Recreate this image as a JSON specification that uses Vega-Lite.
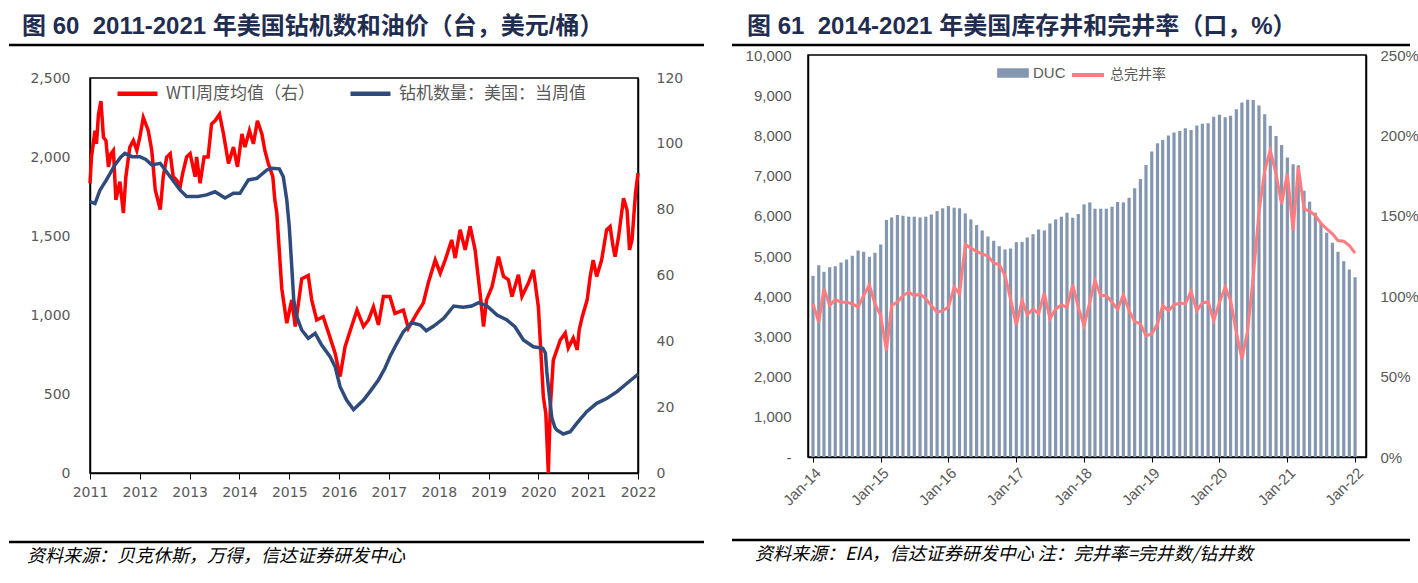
{
  "$schema": "https://vega.github.io/schema/vega-lite/v6.json",
  "padding": {"left": 7, "top": 15, "right": 8, "bottom": 0},
  "autosize": {"type": "pad"},
  "spacing": 24,
  "resolve": {"scale": {"color": "independent", "fill": "independent", "stroke": "independent"}},
  "datasets": {
    "wti": [
      {"t":2011.0,"v":88},{"t":2011.03,"v":96},{"t":2011.1,"v":104},{"t":2011.13,"v":100},{"t":2011.17,"v":109},{"t":2011.22,"v":113},{"t":2011.27,"v":102},{"t":2011.32,"v":101},{"t":2011.37,"v":93},{"t":2011.42,"v":97},{"t":2011.47,"v":98},{"t":2011.52,"v":83},{"t":2011.6,"v":88.5},{"t":2011.67,"v":79},{"t":2011.72,"v":90},{"t":2011.8,"v":99},{"t":2011.87,"v":101},{"t":2011.94,"v":98},
      {"t":2012.0,"v":102},{"t":2012.07,"v":108},{"t":2012.17,"v":104},{"t":2012.24,"v":98},{"t":2012.31,"v":86},{"t":2012.41,"v":80},{"t":2012.47,"v":90},{"t":2012.54,"v":96},{"t":2012.61,"v":97},{"t":2012.67,"v":90},{"t":2012.74,"v":89},{"t":2012.81,"v":87},{"t":2012.86,"v":91},{"t":2012.94,"v":96},
      {"t":2013.01,"v":97},{"t":2013.11,"v":90},{"t":2013.14,"v":96},{"t":2013.21,"v":88},{"t":2013.29,"v":96},{"t":2013.37,"v":96},{"t":2013.44,"v":106},{"t":2013.51,"v":107},{"t":2013.6,"v":109},{"t":2013.68,"v":103},{"t":2013.78,"v":94},{"t":2013.88,"v":99},{"t":2013.96,"v":93},
      {"t":2014.05,"v":103},{"t":2014.11,"v":99},{"t":2014.2,"v":104},{"t":2014.28,"v":100},{"t":2014.36,"v":107},{"t":2014.45,"v":103},{"t":2014.51,"v":98},{"t":2014.58,"v":94},{"t":2014.67,"v":90},{"t":2014.71,"v":83},{"t":2014.75,"v":79},{"t":2014.85,"v":56},{"t":2014.95,"v":45.5},
      {"t":2015.05,"v":52.6},{"t":2015.12,"v":44.5},{"t":2015.25,"v":59},{"t":2015.38,"v":60},{"t":2015.45,"v":52.6},{"t":2015.55,"v":46.5},{"t":2015.68,"v":47.5},{"t":2015.79,"v":42.5},{"t":2015.92,"v":36.4},
      {"t":2016.02,"v":29.3},{"t":2016.12,"v":38.4},{"t":2016.25,"v":44.5},{"t":2016.36,"v":49.5},{"t":2016.49,"v":44.5},{"t":2016.59,"v":46.5},{"t":2016.69,"v":50.5},{"t":2016.79,"v":45},{"t":2016.89,"v":53.6},
      {"t":2017.02,"v":53.6},{"t":2017.12,"v":48.5},{"t":2017.29,"v":49.5},{"t":2017.39,"v":44},{"t":2017.56,"v":48.5},{"t":2017.69,"v":51.6},{"t":2017.79,"v":57.7},{"t":2017.93,"v":64.7},
      {"t":2018.03,"v":60.7},{"t":2018.13,"v":64.7},{"t":2018.26,"v":70.8},{"t":2018.33,"v":65.3},{"t":2018.43,"v":73.9},{"t":2018.53,"v":67.8},{"t":2018.63,"v":74.9},{"t":2018.73,"v":67.8},{"t":2018.83,"v":54.6},{"t":2018.9,"v":44.5},{"t":2018.96,"v":52.6},
      {"t":2019.07,"v":56.6},{"t":2019.2,"v":65.7},{"t":2019.3,"v":59.7},{"t":2019.4,"v":58.7},{"t":2019.47,"v":53.6},{"t":2019.6,"v":60.2},{"t":2019.67,"v":53.6},{"t":2019.8,"v":57.7},{"t":2019.9,"v":61.7},
      {"t":2020.0,"v":50.5},{"t":2020.1,"v":23.2},{"t":2020.15,"v":18},{"t":2020.2,"v":0},{"t":2020.24,"v":20},{"t":2020.3,"v":34.3},{"t":2020.44,"v":40.4},{"t":2020.54,"v":42.5},{"t":2020.6,"v":38},{"t":2020.7,"v":41},{"t":2020.78,"v":37.4},{"t":2020.82,"v":43.5},{"t":2020.88,"v":47.4},{"t":2020.98,"v":52.6},
      {"t":2021.04,"v":59.7},{"t":2021.1,"v":64.7},{"t":2021.17,"v":59.7},{"t":2021.27,"v":64.7},{"t":2021.37,"v":73.9},{"t":2021.44,"v":74.9},{"t":2021.5,"v":68.8},{"t":2021.54,"v":65.7},{"t":2021.61,"v":71.8},{"t":2021.71,"v":83.5},{"t":2021.78,"v":79.9},{"t":2021.83,"v":67.8},{"t":2021.88,"v":70.8},{"t":2021.95,"v":85},{"t":2022.0,"v":91.1}
    ],
    "rigs": [
      {"t":2011.0,"v":1717},{"t":2011.1,"v":1705},{"t":2011.2,"v":1790},{"t":2011.33,"v":1855},{"t":2011.5,"v":1950},{"t":2011.62,"v":2000},{"t":2011.7,"v":2023},{"t":2011.84,"v":2002},
      {"t":2012.0,"v":2002},{"t":2012.12,"v":1985},{"t":2012.24,"v":1950},{"t":2012.41,"v":1960},{"t":2012.61,"v":1875},{"t":2012.81,"v":1790},{"t":2012.94,"v":1750},
      {"t":2013.17,"v":1750},{"t":2013.34,"v":1760},{"t":2013.51,"v":1780},{"t":2013.71,"v":1740},{"t":2013.88,"v":1770},
      {"t":2014.01,"v":1770},{"t":2014.18,"v":1855},{"t":2014.35,"v":1865},{"t":2014.55,"v":1918},{"t":2014.65,"v":1928},{"t":2014.8,"v":1925},{"t":2014.88,"v":1875},{"t":2014.95,"v":1728},
      {"t":2015.0,"v":1559},{"t":2015.05,"v":1306},{"t":2015.09,"v":1095},{"t":2015.15,"v":989},{"t":2015.25,"v":905},{"t":2015.38,"v":852},{"t":2015.52,"v":884},{"t":2015.65,"v":810},{"t":2015.82,"v":736},{"t":2015.92,"v":673},
      {"t":2016.02,"v":546},{"t":2016.15,"v":462},{"t":2016.29,"v":401},{"t":2016.49,"v":462},{"t":2016.62,"v":515},{"t":2016.79,"v":589},{"t":2016.92,"v":663},
      {"t":2017.02,"v":736},{"t":2017.16,"v":821},{"t":2017.29,"v":894},{"t":2017.46,"v":951},{"t":2017.63,"v":937},{"t":2017.75,"v":900},{"t":2017.9,"v":930},
      {"t":2018.1,"v":979},{"t":2018.3,"v":1057},{"t":2018.49,"v":1049},{"t":2018.66,"v":1057},{"t":2018.8,"v":1078},{"t":2018.97,"v":1057},
      {"t":2019.17,"v":1000},{"t":2019.37,"v":968},{"t":2019.53,"v":926},{"t":2019.7,"v":842},{"t":2019.9,"v":799},
      {"t":2020.09,"v":789},{"t":2020.14,"v":760},{"t":2020.17,"v":640},{"t":2020.21,"v":520},{"t":2020.27,"v":350},{"t":2020.33,"v":290},{"t":2020.37,"v":272},{"t":2020.5,"v":247},{"t":2020.64,"v":261},{"t":2020.77,"v":314},{"t":2020.97,"v":388},
      {"t":2021.17,"v":441},{"t":2021.38,"v":473},{"t":2021.58,"v":515},{"t":2021.78,"v":568},{"t":2022.0,"v":625}
    ],
    "wells": [
      {"d":"2014-01-01","duc":4506,"rate":95.2},{"d":"2014-02-01","duc":4770,"rate":83.8},{"d":"2014-03-01","duc":4606,"rate":104.5},{"d":"2014-04-01","duc":4721,"rate":94.2},{"d":"2014-05-01","duc":4746,"rate":97.9},{"d":"2014-06-01","duc":4838,"rate":96.3},{"d":"2014-07-01","duc":4913,"rate":96.3},{"d":"2014-08-01","duc":5005,"rate":95.2},{"d":"2014-09-01","duc":5137,"rate":93.2},{"d":"2014-10-01","duc":5105,"rate":100.4},{"d":"2014-11-01","duc":4980,"rate":107},{"d":"2014-12-01","duc":5080,"rate":95.2},
      {"d":"2015-01-01","duc":5287,"rate":87.9},{"d":"2015-02-01","duc":5893,"rate":66.2},{"d":"2015-03-01","duc":5960,"rate":94.2},{"d":"2015-04-01","duc":6017,"rate":96.3},{"d":"2015-05-01","duc":6002,"rate":100.4},{"d":"2015-06-01","duc":5978,"rate":102.5},{"d":"2015-07-01","duc":5978,"rate":100.4},{"d":"2015-08-01","duc":5960,"rate":101.4},{"d":"2015-09-01","duc":5978,"rate":98.3},{"d":"2015-10-01","duc":6035,"rate":94.2},{"d":"2015-11-01","duc":6117,"rate":90},{"d":"2015-12-01","duc":6185,"rate":91},
      {"d":"2016-01-01","duc":6242,"rate":93.2},{"d":"2016-02-01","duc":6202,"rate":105.6},{"d":"2016-03-01","duc":6185,"rate":101.4},{"d":"2016-04-01","duc":6060,"rate":132.1},{"d":"2016-05-01","duc":5910,"rate":129.9},{"d":"2016-06-01","duc":5768,"rate":127.8},{"d":"2016-07-01","duc":5636,"rate":126.3},{"d":"2016-08-01","duc":5486,"rate":124.9},{"d":"2016-09-01","duc":5379,"rate":120.7},{"d":"2016-10-01","duc":5244,"rate":119.5},{"d":"2016-11-01","duc":5162,"rate":112.8},{"d":"2016-12-01","duc":5187,"rate":98.3},
      {"d":"2017-01-01","duc":5344,"rate":82.1},{"d":"2017-02-01","duc":5350,"rate":97.3},{"d":"2017-03-01","duc":5461,"rate":88.4},{"d":"2017-04-01","duc":5544,"rate":92.1},{"d":"2017-05-01","duc":5661,"rate":89},{"d":"2017-06-01","duc":5636,"rate":102},{"d":"2017-07-01","duc":5810,"rate":85.9},{"d":"2017-08-01","duc":5910,"rate":92.1},{"d":"2017-09-01","duc":5978,"rate":94.6},{"d":"2017-10-01","duc":6077,"rate":93.2},{"d":"2017-11-01","duc":5953,"rate":107},{"d":"2017-12-01","duc":6043,"rate":93.2},
      {"d":"2018-01-01","duc":6284,"rate":81.7},{"d":"2018-02-01","duc":6334,"rate":96.3},{"d":"2018-03-01","duc":6177,"rate":109.7},{"d":"2018-04-01","duc":6177,"rate":100.4},{"d":"2018-05-01","duc":6177,"rate":100.4},{"d":"2018-06-01","duc":6227,"rate":96.3},{"d":"2018-07-01","duc":6342,"rate":91.7},{"d":"2018-08-01","duc":6334,"rate":100.8},{"d":"2018-09-01","duc":6451,"rate":91},{"d":"2018-10-01","duc":6683,"rate":84.2},{"d":"2018-11-01","duc":6916,"rate":82.8},{"d":"2018-12-01","duc":7264,"rate":75.5},
      {"d":"2019-01-01","duc":7598,"rate":76.5},{"d":"2019-02-01","duc":7805,"rate":82.8},{"d":"2019-03-01","duc":7888,"rate":94.2},{"d":"2019-04-01","duc":7997,"rate":91},{"d":"2019-05-01","duc":8072,"rate":94.6},{"d":"2019-06-01","duc":8112,"rate":95.8},{"d":"2019-07-01","duc":8180,"rate":95.2},{"d":"2019-08-01","duc":8137,"rate":102.9},{"d":"2019-09-01","duc":8247,"rate":91},{"d":"2019-10-01","duc":8287,"rate":95.8},{"d":"2019-11-01","duc":8304,"rate":96.6},{"d":"2019-12-01","duc":8461,"rate":84.8},
      {"d":"2020-01-01","duc":8511,"rate":96.3},{"d":"2020-02-01","duc":8454,"rate":105.6},{"d":"2020-03-01","duc":8486,"rate":97.3},{"d":"2020-04-01","duc":8653,"rate":77.6},{"d":"2020-05-01","duc":8820,"rate":61},{"d":"2020-06-01","duc":8885,"rate":78.6},{"d":"2020-07-01","duc":8878,"rate":112},{"d":"2020-08-01","duc":8745,"rate":152.3},{"d":"2020-09-01","duc":8529,"rate":178.2},{"d":"2020-10-01","duc":8237,"rate":190.6},{"d":"2020-11-01","duc":7988,"rate":176.1},{"d":"2020-12-01","duc":7763,"rate":157.4},
      {"d":"2021-01-01","duc":7449,"rate":176.1},{"d":"2021-02-01","duc":7282,"rate":140.8},{"d":"2021-03-01","duc":7257,"rate":180.3},{"d":"2021-04-01","duc":6626,"rate":154.3},{"d":"2021-05-01","duc":6352,"rate":152.9},{"d":"2021-06-01","duc":6077,"rate":150.2},{"d":"2021-07-01","duc":5828,"rate":145.4},{"d":"2021-08-01","duc":5579,"rate":141.9},{"d":"2021-09-01","duc":5329,"rate":138.8},{"d":"2021-10-01","duc":5105,"rate":134.6},{"d":"2021-11-01","duc":4871,"rate":134.2},{"d":"2021-12-01","duc":4663,"rate":131.5},
      {"d":"2022-01-01","duc":4471,"rate":126.8}
    ]
  },
  "hconcat": [
    {
      "spacing": 23,
      "resolve": {"scale": {"color": "independent", "fill": "independent", "stroke": "independent"}},
      "vconcat": [
        {
          "width": 548, "height": 6,
          "view": {"stroke": null},
          "data": {"values": [{}]},
          "mark": {"type": "rule", "color": "black", "strokeWidth": 2.5},
          "encoding": {
            "x": {"datum": 0, "type": "quantitative", "scale": {"domain": [0, 1], "range": [-81, 614]}, "axis": null},
            "x2": {"datum": 1},
            "y": {"datum": 0, "type": "quantitative", "scale": {"domain": [0, 1]}, "axis": null}
          },
          "title": {"text": "图 60\u00a0\u00a02011-2021 年美国钻机数和油价（台，美元/桶）", "anchor": "start", "frame": "group", "dx": -68, "offset": 0, "fontSize": 24, "fontWeight": "bold", "color": "#1f2d50", "font": "Liberation Sans, Noto Sans CJK SC"}
        },
        {
          "width": 548, "height": 395,
          "view": {"stroke": "black", "strokeWidth": 1.5},
          "layer": [
            {
              "data": {"name": "wti"},
              "mark": {"type": "line", "strokeWidth": 3.5},
              "encoding": {
                "x": {"field": "t", "type": "quantitative", "scale": {"domain": [2011, 2022], "nice": false},
                      "axis": {"values": [2011,2012,2013,2014,2015,2016,2017,2018,2019,2020,2021,2022], "labelExpr": "'' + datum.value", "labelFont": "DejaVu Sans", "labelFontSize": 14, "labelColor": "#595959", "tickSize": 6, "tickColor": "black", "domainColor": "black", "domainWidth": 1.5, "labelPadding": 6, "labelFlush": false, "labelOverlap": false, "grid": false, "title": null}},
                "y": {"field": "v", "type": "quantitative", "scale": {"domain": [0, 120], "nice": false},
                      "axis": {"orient": "right", "values": [0,20,40,60,80,100,120], "labelExpr": "'' + datum.value", "labelFont": "DejaVu Sans", "labelFontSize": 14, "labelColor": "#595959", "ticks": false, "labelPadding": 18, "domainColor": "black", "domainWidth": 1.5, "grid": false, "title": null}},
                "color": {"datum": "WTI周度均值（右）", "type": "nominal",
                          "scale": {"domain": ["WTI周度均值（右）", "钻机数量：美国：当周值"], "range": ["#ff0000", "#2f4b7c"]},
                          "legend": {"orient": "none", "legendX": 25, "legendY": -7, "direction": "horizontal", "title": null, "symbolType": "stroke", "symbolSize": 1600, "symbolStrokeWidth": 4.5, "labelFont": "Noto Sans CJK SC", "labelFontSize": 17, "labelColor": "#595959", "labelOffset": 6, "labelLimit": 400, "columnPadding": 25}}
              }
            },
            {
              "data": {"name": "rigs"},
              "mark": {"type": "line", "strokeWidth": 3.5},
              "encoding": {
                "x": {"field": "t", "type": "quantitative"},
                "y": {"field": "v", "type": "quantitative", "scale": {"domain": [0, 2500], "nice": false},
                      "axis": {"orient": "left", "values": [0,500,1000,1500,2000,2500], "labelExpr": "format(datum.value, ',')", "labelFont": "DejaVu Sans", "labelFontSize": 14, "labelColor": "#595959", "ticks": false, "labelPadding": 20, "domainColor": "black", "domainWidth": 1.5, "grid": false, "title": null}},
                "color": {"datum": "钻机数量：美国：当周值", "type": "nominal"}
              }
            }
          ],
          "resolve": {"scale": {"y": "independent"}}
        },
        {
          "width": 548, "height": 19,
          "view": {"stroke": null},
          "data": {"values": [{}]},
          "mark": {"type": "rule", "color": "black", "strokeWidth": 2.5},
          "encoding": {
            "x": {"datum": 0, "type": "quantitative", "scale": {"domain": [0, 1], "range": [-81, 614]}, "axis": null},
            "x2": {"datum": 1},
            "y": {"datum": 0, "type": "quantitative", "scale": {"domain": [0, 1]}, "axis": null}
          },
          "title": {"text": "资料来源：贝克休斯，万得，信达证券研发中心", "orient": "bottom", "anchor": "start", "frame": "group", "dx": -63, "offset": 5, "fontSize": 18, "fontWeight": "normal", "fontStyle": "italic", "color": "black", "font": "Noto Sans CJK SC"}
        }
      ]
    },
    {
      "spacing": 0,
      "resolve": {"scale": {"color": "independent", "fill": "independent", "stroke": "independent"}},
      "vconcat": [
        {
          "width": 558, "height": 6,
          "view": {"stroke": null},
          "data": {"values": [{}]},
          "mark": {"type": "rule", "color": "black", "strokeWidth": 2.5},
          "encoding": {
            "x": {"datum": 0, "type": "quantitative", "scale": {"domain": [0, 1], "range": [-76, 602]}, "axis": null},
            "x2": {"datum": 1},
            "y": {"datum": 0, "type": "quantitative", "scale": {"domain": [0, 1]}, "axis": null}
          },
          "title": {"text": "图 61\u00a0\u00a02014-2021 年美国库存井和完井率（口，%）", "anchor": "start", "frame": "group", "dx": -61, "offset": 0, "fontSize": 24, "fontWeight": "bold", "color": "#1f2d50", "font": "Liberation Sans, Noto Sans CJK SC"}
        },
        {
          "width": 558, "height": 402,
          "view": {"stroke": "black", "strokeWidth": 1.5},
          "data": {"name": "wells"},
          "layer": [
            {
              "mark": {"type": "bar", "size": 3.2},
              "encoding": {
                "x": {"field": "d", "type": "temporal",
                      "scale": {"type": "utc", "domain": [{"year": 2014, "month": 1, "date": 1, "utc": true}, {"year": 2022, "month": 2, "date": 2, "utc": true}], "nice": false},
                      "axis": {"values": [
                        {"year": 2014, "month": 1, "date": 1, "utc": true},
                        {"year": 2015, "month": 1, "date": 1, "utc": true},
                        {"year": 2016, "month": 1, "date": 1, "utc": true},
                        {"year": 2017, "month": 1, "date": 1, "utc": true},
                        {"year": 2018, "month": 1, "date": 1, "utc": true},
                        {"year": 2019, "month": 1, "date": 1, "utc": true},
                        {"year": 2020, "month": 1, "date": 1, "utc": true},
                        {"year": 2021, "month": 1, "date": 1, "utc": true},
                        {"year": 2022, "month": 1, "date": 1, "utc": true}],
                        "format": "%b-%y", "labelAngle": -45, "labelFont": "Liberation Sans Narrow, Liberation Sans", "labelFontSize": 15, "labelColor": "#595959", "tickSize": 5, "tickColor": "black", "domainColor": "black", "domainWidth": 1.5, "labelPadding": 3, "labelFlush": false, "labelOverlap": false, "grid": false, "title": null}},
                "y": {"field": "duc", "type": "quantitative", "scale": {"domain": [0, 10000], "nice": false},
                      "axis": {"orient": "left", "values": [0,1000,2000,3000,4000,5000,6000,7000,8000,9000,10000], "labelExpr": "datum.value === 0 ? '-' : format(datum.value, ',')", "labelFont": "Liberation Sans Narrow, Liberation Sans", "labelFontSize": 15, "labelColor": "#595959", "ticks": false, "labelPadding": 17, "domainColor": "black", "domainWidth": 1.5, "grid": false, "title": null}},
                "fill": {"datum": "DUC", "type": "nominal", "scale": {"range": ["#8497b0"]},
                         "legend": {"orient": "none", "legendX": 189, "legendY": 2, "title": null, "symbolType": "M-1,-0.3H1V0.3H-1Z", "symbolSize": 1000, "symbolStrokeWidth": 0, "labelFont": "Liberation Sans Narrow, Liberation Sans", "labelFontSize": 15, "labelColor": "#595959", "labelOffset": 4}}
              }
            },
            {
              "mark": {"type": "line", "strokeWidth": 3},
              "encoding": {
                "x": {"field": "d", "type": "temporal"},
                "y": {"field": "rate", "type": "quantitative", "scale": {"domain": [0, 250], "nice": false},
                      "axis": {"orient": "right", "values": [0,50,100,150,200,250], "labelExpr": "datum.value + '%'", "labelFont": "Liberation Sans Narrow, Liberation Sans", "labelFontSize": 15, "labelColor": "#595959", "ticks": false, "labelPadding": 14, "domainColor": "black", "domainWidth": 1.5, "grid": false, "title": null}},
                "stroke": {"datum": "总完井率", "type": "nominal", "scale": {"range": ["#ff7c80"]},
                           "legend": {"orient": "none", "legendX": 262, "legendY": 2, "title": null, "symbolType": "stroke", "symbolSize": 1024, "symbolStrokeWidth": 4, "labelFont": "Noto Sans CJK SC", "labelFontSize": 14, "labelColor": "#595959", "labelOffset": 4}}
              }
            }
          ],
          "resolve": {"scale": {"y": "independent"}}
        },
        {
          "width": 558, "height": 31,
          "view": {"stroke": null},
          "data": {"values": [{}]},
          "mark": {"type": "rule", "color": "black", "strokeWidth": 2.5},
          "encoding": {
            "x": {"datum": 0, "type": "quantitative", "scale": {"domain": [0, 1], "range": [-76, 602]}, "axis": null},
            "x2": {"datum": 1},
            "y": {"datum": 0, "type": "quantitative", "scale": {"domain": [0, 1]}, "axis": null}
          },
          "title": {"text": "资料来源：EIA，信达证券研发中心 注：完井率=完井数/钻井数", "orient": "bottom", "anchor": "start", "frame": "group", "dx": -53, "offset": 5, "fontSize": 18, "fontWeight": "normal", "fontStyle": "italic", "color": "black", "font": "Noto Sans CJK SC"}
        }
      ]
    }
  ],
  "config": {
    "view": {"stroke": null},
    "font": "Noto Sans CJK SC",
    "axis": {"grid": false}
  }
}
